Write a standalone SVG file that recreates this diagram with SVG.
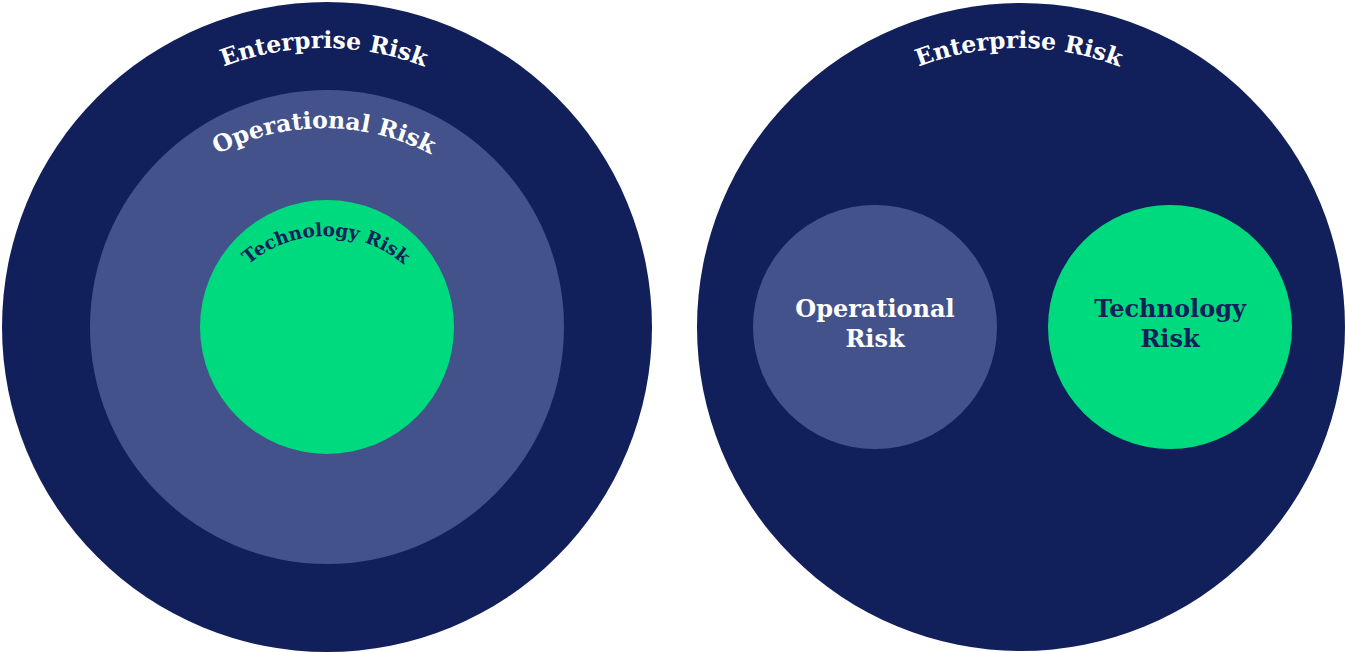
<svg xmlns="http://www.w3.org/2000/svg" width="1345" height="652" viewBox="0 0 1345 652">
  <style>
    .enterprise { fill: #11205A; }
    .operational { fill: #43528B; }
    .technology { fill: #00DA7F; }
    .label { font-family: "DejaVu Serif", "Liberation Serif", serif; font-weight: bold; font-size: 23.5px; }
    .plain { font-size: 24px; }
    .light { fill: #FFFFFF; }
    .dark { fill: #11205A; }
  </style>
  <defs>
    <!-- baseline arcs for the curved labels -->
    <path id="arcEntLeft" d="M 45,327 A 279 279 0 0 1 603,327" fill="none"/>
    <path id="arcOpLeft" d="M 94,358 A 230 230 0 0 1 554,358" fill="none"/>
    <path id="arcTechLeft" d="M 206,356 A 120 120 0 0 1 446,356" fill="none"/>
    <path id="arcEntRight" d="M 740,327 A 279 279 0 0 1 1298,327" fill="none"/>
  </defs>

  <!-- nested view -->
  <g id="left-enterprise">
    <circle class="enterprise" cx="327" cy="327" r="325"/>
    <text class="label light"><textPath href="#arcEntLeft" startOffset="50%" text-anchor="middle">Enterprise Risk</textPath></text>
  </g>
  <g id="left-operational">
    <circle class="operational" cx="327" cy="327" r="237"/>
    <text class="label light"><textPath href="#arcOpLeft" startOffset="50%" text-anchor="middle">Operational Risk</textPath></text>
  </g>
  <g id="left-technology">
    <circle class="technology" cx="327" cy="327" r="127"/>
    <text class="label dark" style="font-size:18.5px"><textPath href="#arcTechLeft" startOffset="50%" text-anchor="middle">Technology Risk</textPath></text>
  </g>

  <!-- side-by-side view -->
  <g id="right-enterprise">
    <circle class="enterprise" cx="1021" cy="327" r="324"/>
    <text class="label light"><textPath href="#arcEntRight" startOffset="50%" text-anchor="middle">Enterprise Risk</textPath></text>
  </g>
  <g id="right-operational">
    <circle class="operational" cx="875" cy="327" r="122"/>
    <text class="label plain light" x="875" y="317" text-anchor="middle">Operational</text>
    <text class="label plain light" x="875" y="347" text-anchor="middle">Risk</text>
  </g>
  <g id="right-technology">
    <circle class="technology" cx="1170" cy="327" r="122"/>
    <text class="label plain dark" x="1170" y="317" text-anchor="middle">Technology</text>
    <text class="label plain dark" x="1170" y="347" text-anchor="middle">Risk</text>
  </g>

  <g id="connectors"></g>
</svg>
